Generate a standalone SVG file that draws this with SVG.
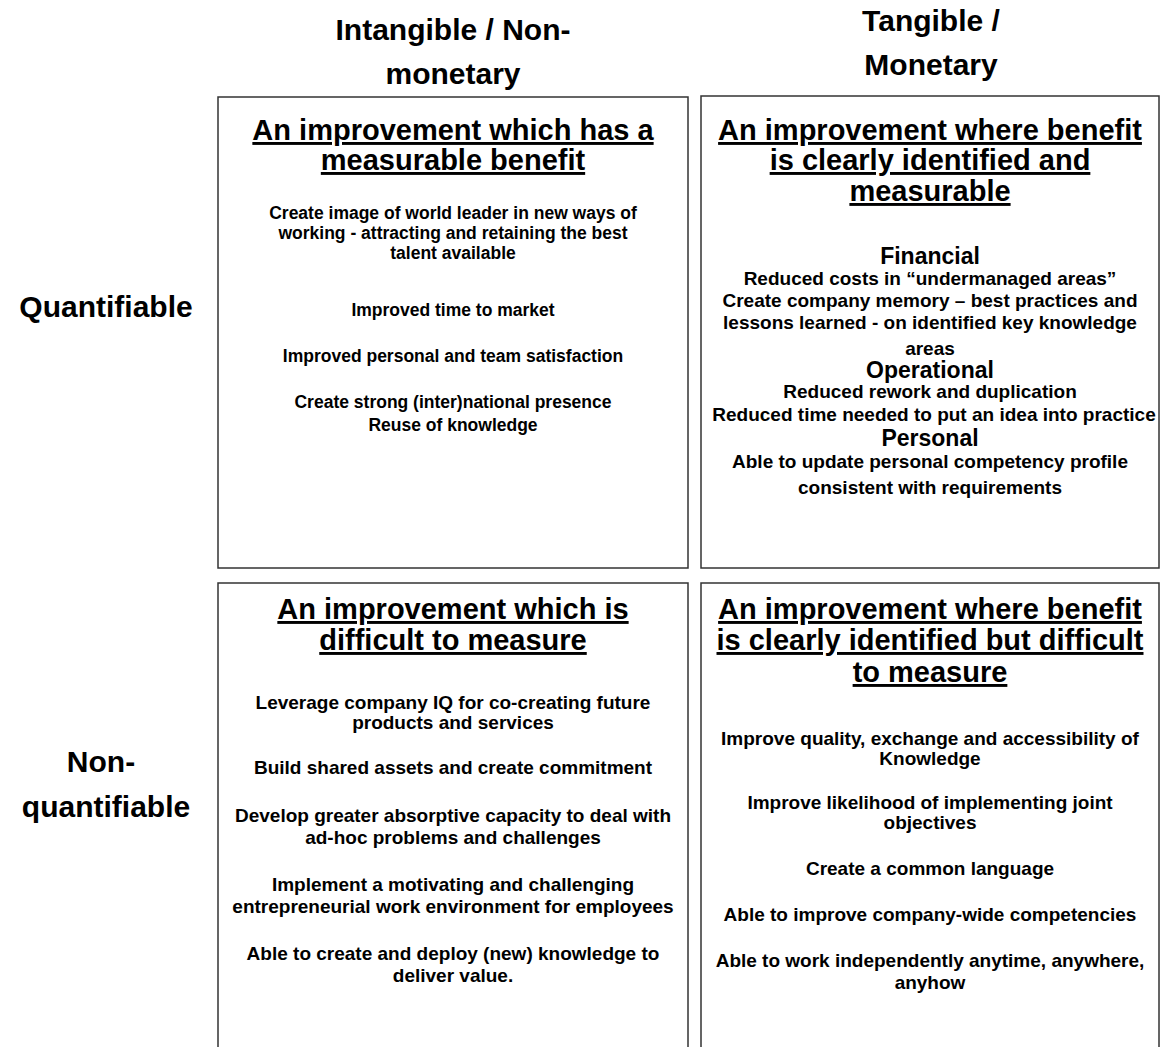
<svg xmlns="http://www.w3.org/2000/svg" width="1161" height="1047" viewBox="0 0 1161 1047">
  <style>
    text { font-family: "Liberation Sans", Arial, sans-serif; font-weight: bold; fill: #000; text-anchor: middle; }
    .hdr { font-size: 30px; }
    .ttl { font-size: 29px; text-decoration: underline; }
    .sub { font-size: 23px; }
    .b17 { font-size: 17.5px; }
    .b19 { font-size: 19px; }
    .box { fill: #fff; stroke: #333; stroke-width: 1.5; }
  </style>
  <rect width="1161" height="1047" fill="#fff"/>

  <!-- axis labels -->
  <g id="col-intangible">
    <text class="hdr" x="453" y="40">Intangible / Non-</text>
    <text class="hdr" x="453" y="84">monetary</text>
  </g>
  <g id="col-tangible">
    <text class="hdr" x="931" y="31">Tangible /</text>
    <text class="hdr" x="931" y="75">Monetary</text>
  </g>
  <g id="row-quantifiable">
    <text class="hdr" x="106" y="317">Quantifiable</text>
  </g>
  <g id="row-nonquantifiable">
    <text class="hdr" x="101" y="772">Non-</text>
    <text class="hdr" x="106" y="817">quantifiable</text>
  </g>

  <!-- quadrant: intangible, quantifiable -->
  <g id="q-intangible-quantifiable">
    <rect class="box" x="218" y="97" width="470" height="471"/>
    <text class="ttl" x="453" y="140">An improvement which has a</text>
    <text class="ttl" x="453" y="170">measurable benefit</text>
    <text class="b17" x="453" y="219">Create image of world leader in new ways of</text>
    <text class="b17" x="453" y="239">working - attracting and retaining the best</text>
    <text class="b17" x="453" y="259">talent available</text>
    <text class="b17" x="453" y="316">Improved time to market</text>
    <text class="b17" x="453" y="362">Improved personal and team satisfaction</text>
    <text class="b17" x="453" y="408">Create strong (inter)national presence</text>
    <text class="b17" x="453" y="431">Reuse of knowledge</text>
  </g>

  <!-- quadrant: tangible, quantifiable -->
  <g id="q-tangible-quantifiable">
    <rect class="box" x="701" y="96" width="458" height="472"/>
    <text class="ttl" x="930" y="140">An improvement where benefit</text>
    <text class="ttl" x="930" y="170">is clearly identified and</text>
    <text class="ttl" x="930" y="201">measurable</text>
    <text class="sub" x="930" y="264">Financial</text>
    <text class="b19" x="930" y="285">Reduced costs in “undermanaged areas”</text>
    <text class="b19" x="930" y="307">Create company memory – best practices and</text>
    <text class="b19" x="930" y="329">lessons learned - on identified key knowledge</text>
    <text class="b19" x="930" y="355">areas</text>
    <text class="sub" x="930" y="378">Operational</text>
    <text class="b19" x="930" y="398">Reduced rework and duplication</text>
    <text class="b19" x="934" y="421">Reduced time needed to put an idea into practice</text>
    <text class="sub" x="930" y="446">Personal</text>
    <text class="b19" x="930" y="468">Able to update personal competency profile</text>
    <text class="b19" x="930" y="494">consistent with requirements</text>
  </g>

  <!-- quadrant: intangible, non-quantifiable -->
  <g id="q-intangible-nonquantifiable">
    <rect class="box" x="218" y="583" width="470" height="480"/>
    <text class="ttl" x="453" y="619">An improvement which is</text>
    <text class="ttl" x="453" y="650">difficult to measure</text>
    <text class="b19" x="453" y="709">Leverage company IQ for co-creating future</text>
    <text class="b19" x="453" y="729">products and services</text>
    <text class="b19" x="453" y="774">Build shared assets and create commitment</text>
    <text class="b19" x="453" y="822">Develop greater absorptive capacity to deal with</text>
    <text class="b19" x="453" y="844">ad-hoc problems and challenges</text>
    <text class="b19" x="453" y="891">Implement a motivating and challenging</text>
    <text class="b19" x="453" y="913">entrepreneurial work environment for employees</text>
    <text class="b19" x="453" y="960">Able to create and deploy (new) knowledge to</text>
    <text class="b19" x="453" y="982">deliver value.</text>
  </g>

  <!-- quadrant: tangible, non-quantifiable -->
  <g id="q-tangible-nonquantifiable">
    <rect class="box" x="701" y="583" width="458" height="480"/>
    <text class="ttl" x="930" y="619">An improvement where benefit</text>
    <text class="ttl" x="930" y="650">is clearly identified but difficult</text>
    <text class="ttl" x="930" y="682">to measure</text>
    <text class="b19" x="930" y="745">Improve quality, exchange and accessibility of</text>
    <text class="b19" x="930" y="765">Knowledge</text>
    <text class="b19" x="930" y="809">Improve likelihood of implementing joint</text>
    <text class="b19" x="930" y="829">objectives</text>
    <text class="b19" x="930" y="875">Create a common language</text>
    <text class="b19" x="930" y="921">Able to improve company-wide competencies</text>
    <text class="b19" x="930" y="967">Able to work independently anytime, anywhere,</text>
    <text class="b19" x="930" y="989">anyhow</text>
  </g>

  <!-- no connectors in this chart -->
  <g id="connectors"/>
</svg>
